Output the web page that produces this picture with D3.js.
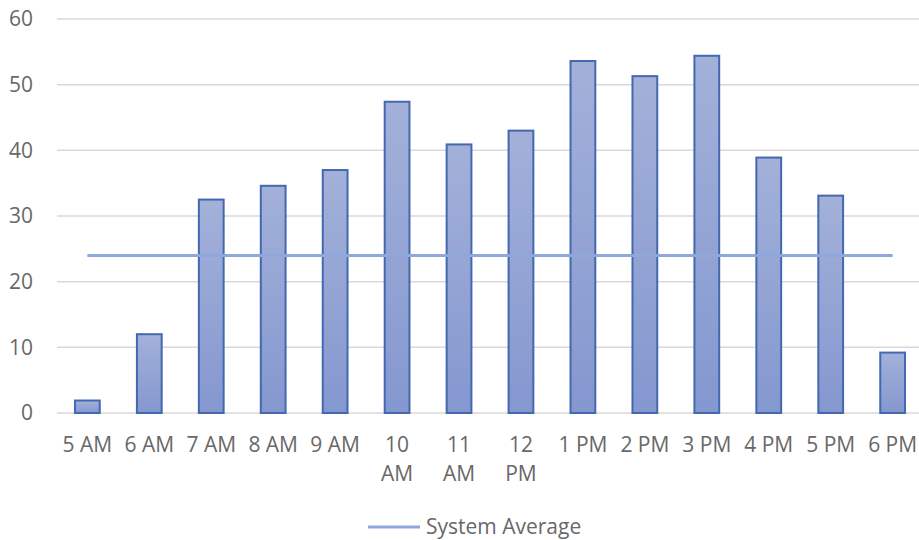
<!DOCTYPE html>
<html lang="en">
<head>
   <meta charset="utf-8">
   <script src="https://d3js.org/d3.v7.min.js"></script>
   <title>Hourly Counts</title>
   <style>
      body { margin: 0; background: #fff; }
      text { font-family: "Open Sans", "Liberation Sans", sans-serif; fill: #686868; }
   </style>
</head>
<body>
   <div id="chart"></div>

   <script type="text/javascript">

      // Chart data
      var hours = ["5 AM", "6 AM", "7 AM", "8 AM", "9 AM", "10 AM", "11 AM",
         "12 PM", "1 PM", "2 PM", "3 PM", "4 PM", "5 PM", "6 PM"];
      var counts = [1.9, 12.0, 32.5, 34.6, 37.0, 47.4, 40.9, 43.0, 53.6, 51.3, 54.4, 38.9, 33.1, 9.2];
      var systemAverage = [24, 24, 24, 24, 24, 24, 24, 24, 24, 24, 24, 24, 24, 24];
      var yTicks = [0, 10, 20, 30, 40, 50, 60];
      var legendLabel = "System Average";

      // Page dimensions
      var width = 919, height = 540;
      var plot = { left: 57, right: 923, top: 19, bottom: 413 };

      var svg = d3.select("#chart")
         .append("svg")
         .attr("width", width)
         .attr("height", height);

      // Bar gradient
      var grad = svg.append("defs").append("linearGradient")
         .attr("id", "barFill")
         .attr("x1", 0).attr("y1", 0).attr("x2", 0).attr("y2", 1);
      grad.append("stop").attr("offset", "0%").attr("stop-color", "#a3b1d9");
      grad.append("stop").attr("offset", "100%").attr("stop-color", "#8497cf");

      // Scales
      var x = d3.scaleBand()
         .domain(hours)
         .range([plot.left, plot.right])
         .paddingInner(0.6)
         .paddingOuter(0.29);

      var y = d3.scaleLinear()
         .domain([0, 60])
         .range([plot.bottom, plot.top]);

      // Gridlines
      svg.selectAll(".grid")
         .data(yTicks)
         .enter()
         .append("line")
         .attr("class", "grid")
         .attr("x1", plot.left)
         .attr("x2", width)
         .attr("y1", d => y(d))
         .attr("y2", d => y(d))
         .attr("stroke", "#d9d9d9")
         .attr("stroke-width", 1.5);

      // Y axis labels
      var yAxis = d3.axisLeft(y).tickValues(yTicks).tickSize(0).tickPadding(0);
      var gy = svg.append("g")
         .attr("transform", "translate(33,0)")
         .call(yAxis);
      gy.select(".domain").remove();
      gy.selectAll("text")
         .style("font-size", "21px")
         .attr("fill", "#686868");

      // Bars
      svg.selectAll(".bar")
         .data(counts)
         .enter()
         .append("rect")
         .attr("class", "bar")
         .attr("x", (d, i) => x(hours[i]))
         .attr("y", d => y(d))
         .attr("width", x.bandwidth())
         .attr("height", d => y(0) - y(d))
         .attr("fill", "url(#barFill)")
         .attr("stroke", "#4468b0")
         .attr("stroke-width", 2);

      // System average line
      var line = d3.line()
         .x((d, i) => x(hours[i]) + x.bandwidth() / 2)
         .y(d => y(d));

      svg.append("path")
         .datum(systemAverage)
         .attr("d", line)
         .attr("fill", "none")
         .attr("stroke", "#8fa8dc")
         .attr("stroke-width", 3);

      // X axis labels, wrapped when wider than the category
      var xAxis = d3.axisBottom(x).tickSize(0).tickPadding(0);
      var gx = svg.append("g")
         .attr("transform", "translate(0," + plot.bottom + ")")
         .call(xAxis);
      gx.select(".domain").remove();
      gx.selectAll("text")
         .style("font-size", "21px")
         .attr("fill", "#686868")
         .attr("y", 39)
         .attr("dy", 0)
         .each(function (d) {
            var t = d3.select(this);
            if (this.getComputedTextLength() > x.step() - 4) {
               var words = d.split(" ");
               t.text(null);
               words.forEach(function (w, k) {
                  t.append("tspan")
                     .attr("x", 0)
                     .attr("dy", k === 0 ? 0 : 29)
                     .text(w);
               });
            }
         });

      // Legend
      var legend = svg.append("g").attr("transform", "translate(368,527)");
      legend.append("line")
         .attr("x1", 0).attr("x2", 52)
         .attr("y1", 0).attr("y2", 0)
         .attr("stroke", "#8fa8dc")
         .attr("stroke-width", 3);
      legend.append("text")
         .attr("x", 58)
         .attr("y", 7)
         .style("font-size", "21px")
         .attr("fill", "#686868")
         .text(legendLabel);

   </script>
</body>
</html>
